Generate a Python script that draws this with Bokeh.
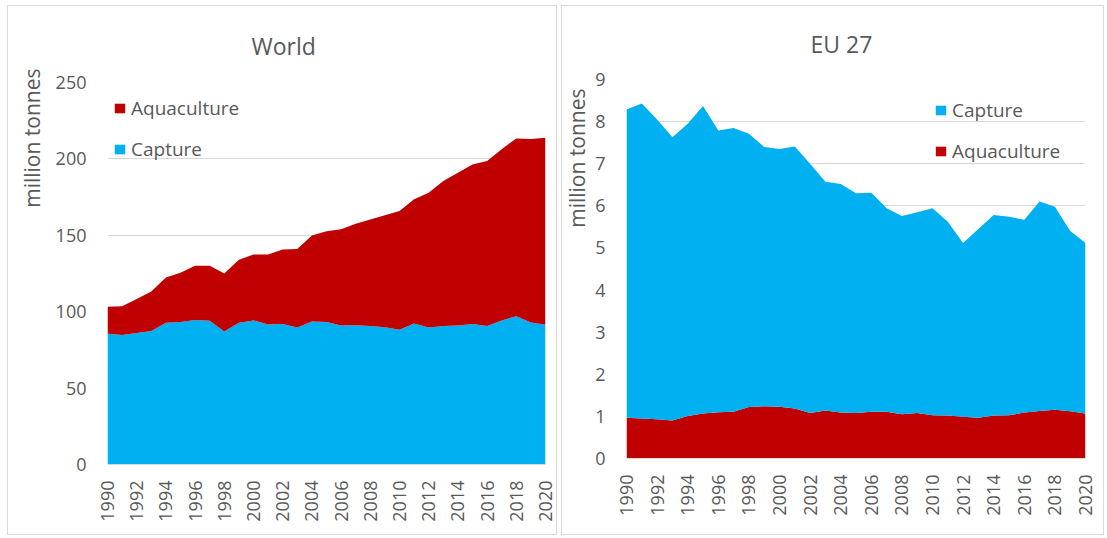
from math import pi
from bokeh.plotting import figure
from bokeh.models import ColumnDataSource, FixedTicker, Legend, LegendItem, Title, Range1d, Spacer
from bokeh.layouts import row, column
from bokeh.embed import file_html
from bokeh.resources import INLINE

years = list(range(1990, 2021))
year_ticks = list(range(1990, 2021, 2))

world_capture = [85.5, 84.7, 86.0, 87.3, 92.8, 93.2, 94.5, 94.1, 87.0, 92.8, 94.3,
                 91.7, 91.9, 89.7, 93.6, 93.3, 91.0, 91.2, 90.6, 89.9, 88.2,
                 92.3, 89.7, 90.6, 91.0, 91.9, 90.6, 94.3, 97.1, 93.0, 91.4]
world_aquaculture = [17.8, 18.8, 22.3, 25.9, 29.6, 32.3, 35.6, 36.0, 38.0, 41.2, 43.2,
                     45.8, 48.8, 51.3, 56.3, 59.4, 63.0, 66.4, 69.8, 73.3, 77.7,
                     81.3, 88.1, 95.0, 100.0, 104.4, 108.1, 112.0, 116.3, 120.0, 122.4]

eu_aquaculture = [0.97, 0.95, 0.93, 0.90, 1.01, 1.07, 1.10, 1.11, 1.22, 1.24, 1.23,
                  1.19, 1.08, 1.14, 1.09, 1.08, 1.11, 1.11, 1.05, 1.08, 1.03,
                  1.02, 0.99, 0.97, 1.02, 1.03, 1.09, 1.13, 1.16, 1.12, 1.07]
eu_capture = [7.32, 7.48, 7.12, 6.73, 6.94, 7.30, 6.69, 6.74, 6.49, 6.16, 6.12,
              6.22, 5.92, 5.43, 5.43, 5.22, 5.20, 4.83, 4.71, 4.77, 4.91,
              4.60, 4.13, 4.48, 4.76, 4.71, 4.58, 4.97, 4.82, 4.28, 4.05]

CAPTURE_COLOR = "#00B0F0"
AQUA_COLOR = "#C00000"
TEXT_COLOR = "#595959"
GRID_COLOR = "#D9D9D9"
FONT = "Open Sans"


def base_figure(width, height, ymax, yticks, borders, title):
    left, right, top, bottom = borders
    p = figure(width=width, height=height, output_backend="svg", toolbar_location=None,
               x_range=Range1d(1990, 2020), y_range=Range1d(0, ymax),
               min_border_left=left, min_border_right=right,
               min_border_top=top, min_border_bottom=bottom, title=title)
    p.frame_align = False
    p.outline_line_color = None
    p.background_fill_color = "white"
    p.border_fill_color = "white"
    p.styles = {"border": "1px solid #D9D9D9"}
    p.xgrid.grid_line_color = None
    p.ygrid.grid_line_color = GRID_COLOR
    p.ygrid.grid_line_width = 1
    p.xaxis.ticker = FixedTicker(ticks=year_ticks)
    p.yaxis.ticker = FixedTicker(ticks=yticks)
    p.xaxis.major_label_orientation = pi / 2
    for ax in (p.xaxis, p.yaxis):
        ax.major_tick_line_color = None
        ax.minor_tick_line_color = None
        ax.major_tick_out = 0
        ax.major_tick_in = 0
        ax.minor_tick_out = 0
        ax.major_label_text_font = FONT
        ax.major_label_text_font_size = "18px"
        ax.major_label_text_color = TEXT_COLOR
    p.yaxis.axis_line_color = None
    p.xaxis.axis_line_color = GRID_COLOR
    p.yaxis.major_label_standoff = 21
    p.xaxis.major_label_standoff = 16
    p.title.text_font = FONT
    p.title.text_font_size = "23px"
    p.title.text_font_style = "normal"
    p.title.text_color = TEXT_COLOR
    p.title.align = "left"
    p.title.vertical_align = "bottom"
    return p


def side_title(p, offset, valign, standoff):
    p.add_layout(Title(text="million tonnes", align="right", offset=offset,
                       vertical_align=valign, standoff=standoff, text_font=FONT,
                       text_font_size="21px", text_font_style="normal",
                       text_color=TEXT_COLOR), "left")


# ---------------- World ----------------
wsrc = ColumnDataSource(dict(year=years, capture=world_capture, aquaculture=world_aquaculture))
p1 = base_figure(550, 530, 250, [0, 50, 100, 150, 200, 250], (98, 13, 76, 72), "World")
p1.title.offset = 144
p1.title.standoff = 41
wr = p1.varea_stack(["capture", "aquaculture"], x="year", source=wsrc,
                    color=[CAPTURE_COLOR, AQUA_COLOR])
side_title(p1, -14, "bottom", 14)
leg1 = Legend(items=[LegendItem(label="Aquaculture", renderers=[wr[1]]),
                     LegendItem(label="Capture", renderers=[wr[0]])],
              location=(6, 302), orientation="vertical")
p1.add_layout(leg1)

# ---------------- EU 27 ----------------
esrc = ColumnDataSource(dict(year=years, aquaculture=eu_aquaculture, capture=eu_capture))
p2 = base_figure(543, 530, 9, list(range(0, 10)), (62, 20, 73, 78), "EU 27")
p2.title.offset = 184
p2.title.standoff = 39
er = p2.varea_stack(["aquaculture", "capture"], x="year", source=esrc,
                    color=[AQUA_COLOR, CAPTURE_COLOR])
side_title(p2, 9, "top", 0)
leg2 = Legend(items=[LegendItem(label="Capture", renderers=[er[1]]),
                     LegendItem(label="Aquaculture", renderers=[er[0]])],
              location=(308, 294), orientation="vertical")
p2.add_layout(leg2)

for lg in (leg1, leg2):
    lg.border_line_color = None
    lg.background_fill_alpha = 0
    lg.padding = 0
    lg.margin = 0
    lg.spacing = 15
    lg.glyph_width = 13
    lg.glyph_height = 12
    lg.label_height = 25
    lg.label_standoff = 5
    lg.label_text_font = FONT
    lg.label_text_font_size = "19px"
    lg.label_text_color = TEXT_COLOR
    lg.label_text_baseline = "middle"

layout = column(Spacer(height=5),
                row(Spacer(width=7), p1, Spacer(width=4), p2))
open("out.html", "w").write(file_html(layout, INLINE))
